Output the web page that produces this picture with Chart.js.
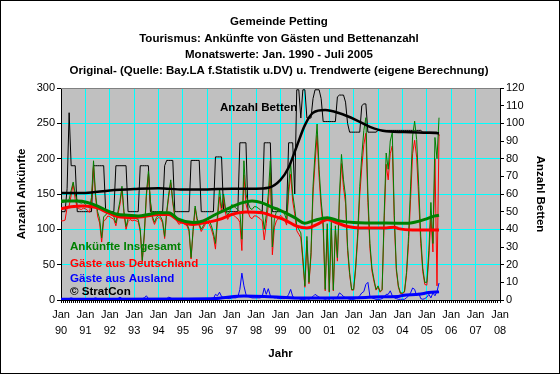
<!DOCTYPE html>
<html>
<head>
<meta charset="utf-8">
<script src="https://cdn.jsdelivr.net/npm/chart.js@4/dist/chart.umd.min.js"></script>
<style>
  html, body { margin: 0; padding: 0; background: #fff; }
  canvas { display: block; }
</style>
</head>
<body>
<canvas id="chart" width="560" height="374"></canvas>
<script>
// Jahresbeschriftung der x-Achse (Jan 90 ... Jan 08)
const jahre = ['90','91','92','93','94','95','96','97','98','99','00','01','02','03','04','05','06','07','08'];

const titel = [
  'Gemeinde Petting',
  'Tourismus: Ankünfte von Gästen und Bettenanzahl',
  'Monatswerte: Jan. 1990 - Juli 2005',
  'Original- (Quelle: Bay.LA f.Statistik u.DV) u. Trendwerte (eigene Berechnung)'
];

// Monatswerte Jan 1990 - Jul 2005
const gesamt = [
  138,138,139,140,142,155,167,150,140,138,137,138,
  135,133,130,145,197,150,125,115,88,118,120,125,
  122,120,118,109,125,140,161,125,104,115,118,116,
  116,115,114,100,56,95,150,182,140,118,110,117,
  120,118,112,90,125,150,170,140,120,115,110,112,
  112,110,108,100,60,100,133,115,108,100,105,110,
  115,112,105,95,80,120,157,130,150,128,120,125,
  135,133,130,128,125,86,197,150,138,130,128,132,
  132,130,128,125,100,120,150,197,75,115,125,128,
  128,125,122,113,160,194,150,130,105,100,95,60,
  20,90,25,67,161,208,249,185,140,110,15,108,
  12,110,14,105,60,150,206,170,147,76,39,15,
  15,48,95,161,204,240,258,150,80,45,29,15,
  20,12,15,120,208,185,225,237,120,45,20,10,
  10,12,39,90,160,232,253,227,161,90,45,25,
  25,70,138,80,230,200,258
];

const deutschland = [
  112,112,113,131,133,148,165,142,131,129,128,130,
  129,127,124,139,190,145,119,109,82,112,114,119,
  118,116,114,105,121,135,157,121,100,111,114,112,
  113,112,111,97,54,92,146,178,137,115,107,114,
  117,115,109,87,122,146,166,137,117,112,107,109,
  109,107,105,97,58,97,130,112,105,97,102,107,
  110,107,100,90,72,112,146,124,146,122,114,119,
  122,120,117,115,110,70,177,136,125,117,115,119,
  119,117,115,112,85,108,134,180,64,103,112,115,
  120,117,114,106,150,178,140,122,98,93,88,55,
  18,84,23,62,150,194,233,173,131,102,13,100,
  11,102,13,98,55,140,193,159,137,70,36,14,
  14,44,87,148,188,220,236,138,73,41,26,14,
  18,11,14,110,192,170,207,218,110,41,18,9,
  9,11,35,80,142,207,226,202,143,80,40,22,
  21,60,118,68,200,20,235
];

const ausland = [
  0,0,1,1,2,3,2,1,0,0,0,0,
  0,0,0,1,2,3,2,1,0,0,0,0,
  0,0,0,1,2,4,2,1,0,0,0,0,
  0,0,1,1,2,3,6,2,1,0,0,0,
  0,0,0,1,2,4,3,1,0,0,0,0,
  0,0,0,1,1,2,2,1,0,0,0,1,
  1,1,1,2,8,6,11,5,3,3,2,2,
  3,3,3,4,15,38,20,8,5,4,3,3,
  3,3,3,5,17,8,16,6,4,3,3,2,
  2,2,2,3,8,15,5,3,2,2,1,1,
  1,2,1,3,5,8,6,4,3,2,1,2,
  1,3,1,3,4,10,8,5,3,2,1,1,
  1,2,3,6,10,12,22,25,5,3,2,1,
  1,1,2,4,8,8,13,6,3,2,1,1,
  1,1,3,6,10,17,15,6,10,2,1,2,
  4,8,3,10,6,12,24
];

const betten = [
  50,50,50,63,106,76,76,76,50,50,50,50,
  50,50,50,50,76,76,76,76,76,76,50,50,
  50,50,50,76,76,76,76,76,76,50,50,50,
  50,50,50,76,76,76,76,76,50,50,50,50,
  50,50,50,76,79,79,79,79,50,50,50,50,
  50,50,50,50,79,79,79,79,79,50,50,50,
  50,50,50,50,81,81,81,81,50,50,50,50,
  50,50,50,50,89,89,89,89,50,50,50,50,
  50,50,50,50,89,89,89,89,50,50,50,50,
  50,50,50,50,89,89,89,60,119,119,103,119,
  119,103,103,103,114,119,119,119,114,101,101,101,
  101,101,101,101,115,116,116,116,112,100,95,95,
  95,95,95,95,110,111,111,95,95,95,95,95,
  96,96,96,96,96,96,96,96,96,96,96,96,
  96,96,96,96,96,96,96,96,96,96,95,95,
  95,95,95,95,95,95,93
];

// Trendwerte: [Monat seit Jan 1990, Wert]
const trendGesamt = [[0,140],[8,140],[13,138],[18,133],[23,126],[28,121],[33,120],[38,119],[43,121],[48,123.5],[53,123.5],[58,114],[65,109.5],[70,112],[76,121],[83,130.5],[89,137.5],[94,140],[99,137.5],[104,131],[107,128],[110,124],[115,116.5],[120,108.5],[124,112],[131,116.5],[137,112],[144,109.5],[150,109],[160,109],[171,108.5],[174,110],[179,114],[184,119],[186,120]];
const trendDeutschland = [[0,129],[5,132],[11,133],[18,130.5],[23,123.5],[28,118],[35,116.5],[41,118],[48,121],[53,121],[58,112],[65,107],[71,109.5],[78,114],[84,121],[91,124.5],[99,123.5],[104,119],[107,116.5],[111,112],[116,104.5],[121,102],[126,107],[131,114],[136,109],[141,104],[147,102],[160,102],[164,103],[166,101],[173,99],[186,99]];
const trendAusland = [[0,1],[60,1.5],[76,2],[82,4],[90,5.5],[100,5],[108,4],[115,3],[130,3],[150,3.5],[158,4.7],[166,5],[168,6.5],[176,8],[181,10.5],[186,11.5]];
const trendBetten = [[0,60.5],[12,60.6],[24,62],[36,62.8],[48,63.3],[60,62.5],[72,62.6],[84,63],[96,63],[102,63.5],[108,68],[112,75],[116,87],[120,99],[124,106],[130,107.5],[137,105.7],[145,102],[152,98],[160,95.5],[172,95],[186,94.4]];

const FONT = 'Arial, "Liberation Sans", sans-serif';
Chart.defaults.font.family = FONT;
Chart.defaults.font.size = 11;
Chart.defaults.color = '#000';

const monat = arr => arr.map((v, i) => ({ x: i, y: v }));
const paare = arr => arr.map(p => ({ x: p[0], y: p[1] }));

function linie(label, data, color, width, axis, trend) {
  return {
    label: label, data: data, yAxisID: axis,
    borderColor: color, borderWidth: width,
    pointRadius: 0, fill: false,
    cubicInterpolationMode: trend ? 'monotone' : 'default',
    tension: 0
  };
}

// Titel, Textfelder, Rahmen
const decor = {
  id: 'decor',
  beforeDraw(chart) {
    const { ctx, chartArea: a } = chart;
    ctx.save();
    ctx.fillStyle = '#fff';
    ctx.fillRect(0, 0, chart.width, chart.height);
    ctx.fillStyle = '#c0c0c0';
    ctx.fillRect(a.left, a.top, a.right - a.left, a.bottom - a.top);
    ctx.restore();
  },
  beforeDatasetsDraw(chart) {
    const { ctx, chartArea: a } = chart;
    ctx.save();
    ctx.strokeStyle = '#808080';
    ctx.lineWidth = 1;
    ctx.beginPath();
    ctx.moveTo(a.left, a.top + 0.5);
    ctx.lineTo(a.right, a.top + 0.5);
    ctx.stroke();
    ctx.restore();
  },
  afterDatasetsDraw(chart) {
    const ctx = chart.ctx;
    ctx.save();
    ctx.font = 'bold 11.6px ' + FONT;
    ctx.textBaseline = 'middle';
    ctx.textAlign = 'left';
    ctx.fillStyle = '#008000'; ctx.fillText('Ankünfte Insgesamt', 70, 247);
    ctx.fillStyle = '#ff0000'; ctx.fillText('Gäste aus Deutschland', 70, 264);
    ctx.fillStyle = '#0000ff'; ctx.fillText('Gäste aus Ausland', 70, 279);
    ctx.fillStyle = '#000'; ctx.fillText('© StratCon', 70, 292);
    ctx.fillText('Anzahl Betten', 220, 108);
    ctx.restore();
  },
  afterDraw(chart) {
    const ctx = chart.ctx;
    ctx.save();
    ctx.font = 'bold 11.5px ' + FONT;
    ctx.textAlign = 'center';
    ctx.textBaseline = 'middle';
    ctx.fillStyle = '#000';
    titel.forEach((t, i) => ctx.fillText(t, 279, 22 + i * 16.4));
    ctx.strokeStyle = '#000';
    ctx.lineWidth = 1;
    ctx.strokeRect(0.5, 0.5, chart.width - 1, chart.height - 1);
    ctx.restore();
  }
};

new Chart(document.getElementById('chart'), {
  type: 'line',
  data: {
    datasets: [
      linie('Trend Insgesamt', paare(trendGesamt), '#008000', 3, 'y', true),
      linie('Trend Deutschland', paare(trendDeutschland), '#ff0000', 3, 'y', true),
      linie('Trend Ausland', paare(trendAusland), '#0000ff', 3, 'y', true),
      linie('Trend Betten', paare(trendBetten), '#000', 2.5, 'y1', true),
      linie('Ankünfte Insgesamt', monat(gesamt), '#008000', 1, 'y', false),
      linie('Gäste aus Deutschland', monat(deutschland), '#ff0000', 1, 'y', false),
      linie('Gäste aus Ausland', monat(ausland), '#0000ff', 1, 'y', false),
      linie('Anzahl Betten', monat(betten), '#000', 1, 'y1', false)
    ]
  },
  options: {
    responsive: false,
    animation: false,
    devicePixelRatio: 1,
    layout: { padding: { top: 88, left: 15, right: 13, bottom: 13 } },
    plugins: { legend: { display: false }, tooltip: { enabled: false } },
    scales: {
      x: {
        type: 'linear', min: 0, max: 216,
        afterFit: s => { s.height = 61; },
        border: { color: '#000', width: 1 },
        grid: {
          color: c => (c.tick && c.tick.value % 12 === 0 && c.tick.value > 0 && c.tick.value < 216) ? '#00ffff' : 'rgba(0,0,0,0)',
          tickColor: '#000', tickLength: 3, lineWidth: 1
        },
        ticks: {
          stepSize: 1, autoSkip: false, maxRotation: 0, minRotation: 0, padding: 4,
          font: { size: 11, lineHeight: '16px' },
          callback: v => (v % 12 === 0) ? ['Jan', jahre[v / 12]] : ''
        },
        title: { display: true, text: 'Jahr', font: { size: 11.5, weight: 'bold' }, padding: 0 }
      },
      y: {
        position: 'left', min: 0, max: 300,
        afterFit: s => { s.width = 46; },
        border: { color: '#000', width: 1 },
        grid: {
          color: c => (c.tick && c.tick.value > 0 && c.tick.value < 300) ? '#00ffff' : 'rgba(0,0,0,0)',
          tickColor: '#000', tickLength: 4
        },
        ticks: { stepSize: 50, padding: 2 },
        title: { display: true, text: 'Anzahl Ankünfte', font: { size: 11.5, weight: 'bold' }, padding: 0 }
      },
      y1: {
        position: 'right', min: 0, max: 120,
        afterFit: s => { s.width = 47; },
        border: { color: '#000', width: 1 },
        grid: { drawOnChartArea: false, tickColor: '#000', tickLength: 4 },
        ticks: { stepSize: 10, padding: 2 },
        title: { display: true, text: 'Anzahl Betten', font: { size: 11.5, weight: 'bold' }, padding: 0 }
      }
    }
  },
  plugins: [decor]
});
</script>
</body>
</html>
